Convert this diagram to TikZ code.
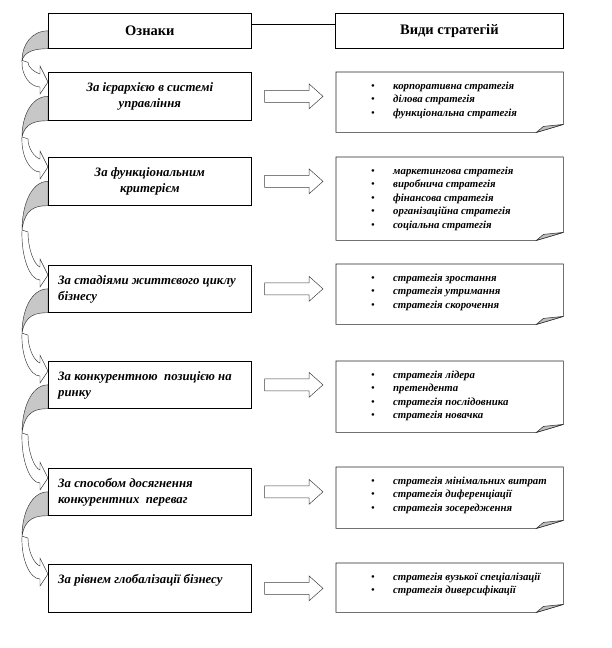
\documentclass[tikz,border=0pt]{standalone}
\usepackage{fontspec}
\setmainfont{Liberation Serif}
\usetikzlibrary{calc}
\tikzset{
  boxline/.style={draw=black, line width=0.7pt},
  lbox/.style={boxline, fill=white, minimum width=203pt, anchor=north west, inner sep=0pt},
  hbox/.style={boxline, fill=white, anchor=north west, inner sep=0pt, minimum height=35pt,
    font=\fontsize{14.5}{16}\selectfont\bfseries},
  rbox/.style={minimum width=227pt, anchor=north west, inner sep=0pt},
  rline/.style={draw=black!85, line width=0.6pt, fill=white},
  ltxt/.style={inner sep=0pt, font=\fontsize{12.8}{16}\selectfont\bfseries\itshape},
  rtxt/.style={inner sep=0pt, anchor=north west, align=left,
    font=\fontsize{10.8}{13.4}\selectfont\bfseries\itshape},
  carrow/.style={draw=black!80, line width=0.45pt},
  barrow/.style={draw=black!75, line width=0.5pt, fill=white},
}
\newcommand\itm[1]{\makebox[22pt][l]{\normalfont\textbullet}#1}
\newcommand\curvArr[2]{%
  \path[carrow, fill=black!22] let \p1=(#1.west), \p2=(#1.south west), \p3=([yshift=-10pt]#2.north west),
    \p4=($(\p2)!0.35!(\p3)$) in
    (\p1) .. controls (\x1-17pt,\y1) and (\x1-26pt,{0.5*(\y1+\y4)}) .. (\x1-26pt,\y4)
    .. controls (\x1-23pt,\y2-2pt) and (\x1-12pt,\y2) .. (\p2) -- cycle;
  \path[carrow, fill=white] let \p1=(#1.west), \p2=(#1.south west), \p3=([yshift=-10pt]#2.north west),
    \p4=($(\p2)!0.35!(\p3)$) in
    (\x1-26pt,\y4) .. controls (\x1-27pt,{\y4+0.55*(\y3-5pt-\y4)}) and (\x1-18pt,\y3-5pt) .. (\x1-8pt,\y3-5pt)
    -- (\x1-8pt,\y3-12pt) -- (\p3) -- (\x1-8pt,\y3+16pt) -- (\x1-8pt,\y3+8pt)
    .. controls (\x1-14pt,\y3+10pt) and (\x1-20pt,{\y4+0.5*(\y3+8pt-\y4)}) .. (\x1-20pt,\y4-2pt) -- cycle;
}
\newcommand\blkArr[2]{%
  \coordinate (s#1) at ([xshift=13pt]#1.east);
  \coordinate (e#1) at ([xshift=-13pt]#1.east -| #2.west);
  \draw[barrow] ([yshift=6pt]s#1) -- ([shift={(-14pt,6pt)}]e#1) -- ([shift={(-14pt,12.5pt)}]e#1)
    -- (e#1) -- ([shift={(-14pt,-12.5pt)}]e#1) -- ([shift={(-14pt,-6pt)}]e#1) -- ([yshift=-6pt]s#1) -- cycle;
}
\newcommand\foldBox[1]{%
  \draw[rline] (#1.south west) -- (#1.north west) -- (#1.north east) -- ([yshift=8pt]#1.south east)
    -- ([xshift=-27pt]#1.south east) -- cycle;
  \filldraw[draw=black!85, line width=0.5pt, fill=black!25] ([xshift=-27pt]#1.south east)
    -- ([shift={(-20pt,6pt)}]#1.south east) -- ([yshift=8pt]#1.south east) -- cycle;
}
\begin{document}
\begin{tikzpicture}[x=1pt, y=-1pt]
\useasboundingbox[fill=white] (0,0) rectangle (612,648);

% left boxes (geometry only, for anchors)
\path (48,13) node[hbox, minimum width=203pt, draw=none, fill=none] (l0) {};
\path (48,72)  node[lbox, minimum height=48pt, draw=none, fill=none] (l1) {};
\path (48,157) node[lbox, minimum height=48pt, draw=none, fill=none] (l2) {};
\path (48,265) node[lbox, minimum height=47pt, draw=none, fill=none] (l3) {};
\path (48,361) node[lbox, minimum height=47pt, draw=none, fill=none] (l4) {};
\path (48,468) node[lbox, minimum height=47pt, draw=none, fill=none] (l5) {};
\path (48,564) node[lbox, minimum height=48pt, draw=none, fill=none] (l6) {};

% curved arrows
\curvArr{l0}{l1}
\curvArr{l1}{l2}
\curvArr{l2}{l3}
\curvArr{l3}{l4}
\curvArr{l4}{l5}
\curvArr{l5}{l6}

% visible boxes
\path (48,13) node[hbox, minimum width=203pt] (h0) {Ознаки};
\path (335,13) node[hbox, minimum width=228pt] (r0) {Види стратегій};
\draw[line width=0.7pt] ([yshift=6.5pt]h0.east) -- ([yshift=6.5pt]h0.east -| r0.west);

\path (48,72)  node[lbox, minimum height=48pt] (b1) {};
\path (48,157) node[lbox, minimum height=48pt] (b2) {};
\path (48,265) node[lbox, minimum height=47pt] (b3) {};
\path (48,361) node[lbox, minimum height=47pt] (b4) {};
\path (48,468) node[lbox, minimum height=47pt] (b5) {};
\path (48,564) node[lbox, minimum height=48pt] (b6) {};

\node[ltxt, anchor=north, align=center] (t1) at ([yshift=-8pt]b1.north) {\strut За ієрархією в системі\\управління};
\node[ltxt, anchor=north, align=center] (t2) at ([yshift=-8pt]b2.north) {\strut За функціональним\\критерієм};
\node[ltxt, anchor=north west, align=left] (t3) at ([shift={(10pt,-8pt)}]b3.north west) {\strut За стадіями життєвого циклу\\бізнесу};
\node[ltxt, anchor=north west, align=left] (t4) at ([shift={(10pt,-8pt)}]b4.north west) {\strut За конкурентною\ \ позицією на\\ринку};
\node[ltxt, anchor=north west, align=left] (t5) at ([shift={(10pt,-8pt)}]b5.north west) {\strut За способом досягнення\\конкурентних\ \ переваг};
\node[ltxt, anchor=north west, align=left] (t6) at ([shift={(10pt,-8pt)}]b6.north west) {\strut За рівнем глобалізації бізнесу};

% right boxes
\path (336,72)  node[rbox, minimum height=60pt] (r1) {};
\path (336,157) node[rbox, minimum height=83pt] (r2) {};
\path (336,264) node[rbox, minimum height=60pt] (r3) {};
\path (336,361) node[rbox, minimum height=71pt] (r4) {};
\path (336,467) node[rbox, minimum height=61pt] (r5) {};
\path (336,563) node[rbox, minimum height=49pt] (r6) {};
\foldBox{r1}\foldBox{r2}\foldBox{r3}\foldBox{r4}\foldBox{r5}\foldBox{r6}

\node[rtxt] (s1) at ([shift={(35pt,-8pt)}]r1.north west)
  {\strut\itm{корпоративна стратегія}\\\itm{ділова стратегія}\\\itm{функціональна стратегія}};
\node[rtxt] (s2) at ([shift={(35pt,-8pt)}]r2.north west)
  {\strut\itm{маркетингова стратегія}\\\itm{виробнича стратегія}\\\itm{фінансова стратегія}\\\itm{організаційна стратегія}\\\itm{соціальна стратегія}};
\node[rtxt] (s3) at ([shift={(35pt,-8pt)}]r3.north west)
  {\strut\itm{стратегія зростання}\\\itm{стратегія утримання}\\\itm{стратегія скорочення}};
\node[rtxt] (s4) at ([shift={(35pt,-8pt)}]r4.north west)
  {\strut\itm{стратегія лідера}\\\itm{претендента}\\\itm{стратегія послідовника}\\\itm{стратегія новачка}};
\node[rtxt] (s5) at ([shift={(35pt,-8pt)}]r5.north west)
  {\strut\itm{стратегія мінімальних витрат}\\\itm{стратегія диференціації}\\\itm{стратегія зосередження}};
\node[rtxt] (s6) at ([shift={(35pt,-8pt)}]r6.north west)
  {\strut\itm{стратегія вузької спеціалізації}\\\itm{стратегія диверсифікації}};

% block arrows
\blkArr{b1}{r1}
\blkArr{b2}{r2}
\blkArr{b3}{r3}
\blkArr{b4}{r4}
\blkArr{b5}{r5}
\blkArr{b6}{r6}
\end{tikzpicture}
\end{document}
